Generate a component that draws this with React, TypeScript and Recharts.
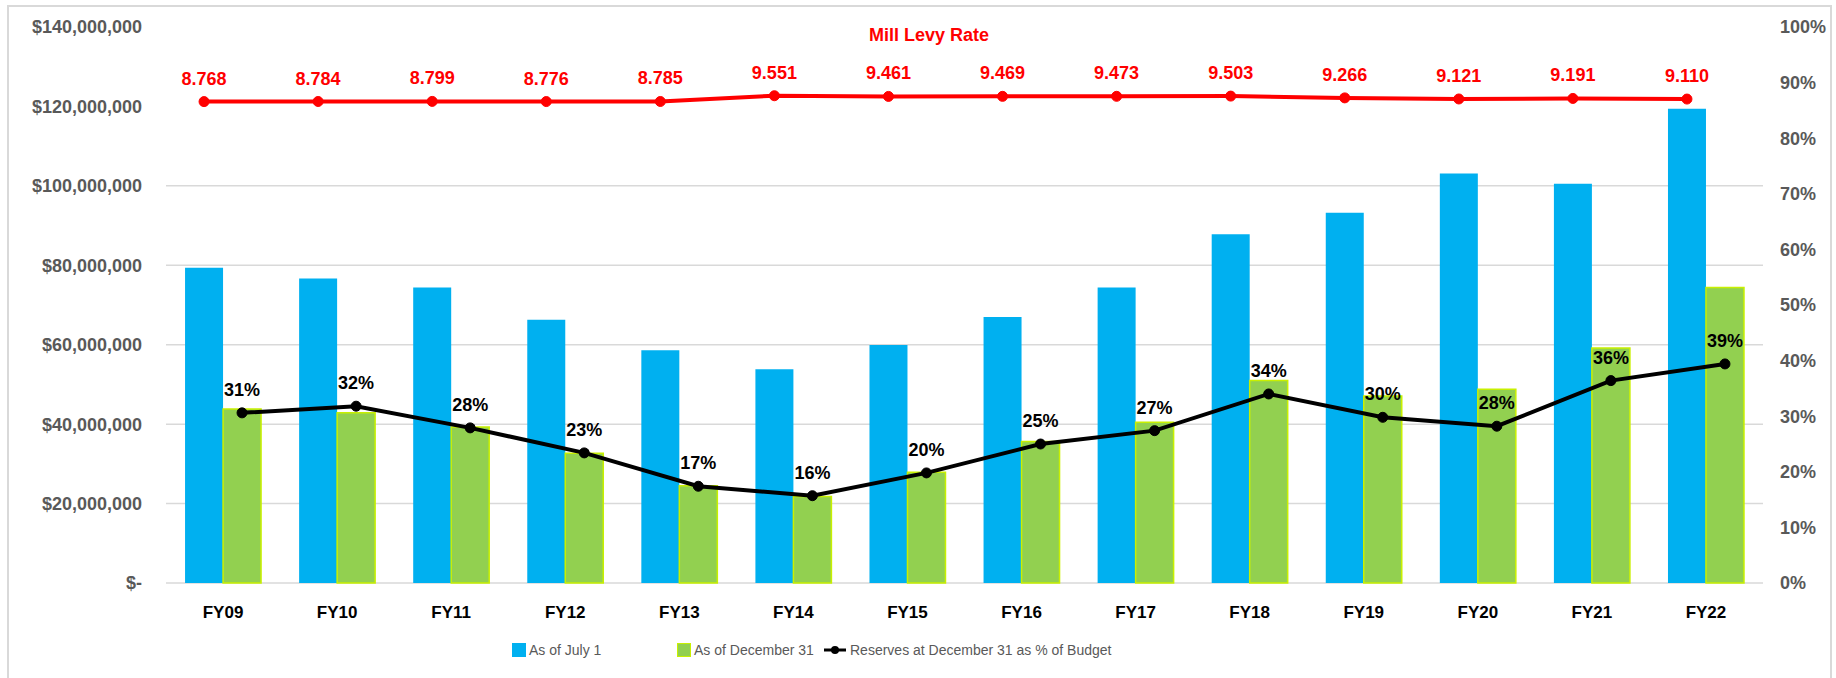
import {
  ComposedChart,
  Bar,
  Line,
  XAxis,
  YAxis,
  CartesianGrid,
  Legend,
  LabelList,
} from "recharts"

const years = ["FY09", "FY10", "FY11", "FY12", "FY13", "FY14", "FY15", "FY16", "FY17", "FY18", "FY19", "FY20", "FY21", "FY22"]

// reserves in $ millions
const asOfJuly1 = [79.4, 76.7, 74.4, 66.3, 58.6, 53.8, 59.9, 67.0, 74.4, 87.8, 93.2, 103.1, 100.5, 119.4]
const asOfDec31 = [43.8, 42.9, 39.3, 32.7, 24.5, 21.8, 27.9, 35.6, 40.5, 51.0, 47.1, 48.8, 59.2, 74.4]

// reserves at Dec 31 as % of budget
const reservePct = [30.6, 31.8, 27.9, 23.4, 17.4, 15.7, 19.8, 25.0, 27.4, 34.0, 29.8, 28.2, 36.4, 39.4]

const millLevy = [8.768, 8.784, 8.799, 8.776, 8.785, 9.551, 9.461, 9.469, 9.473, 9.503, 9.266, 9.121, 9.191, 9.11]

const dollarTicks = [0, 20, 40, 60, 80, 100, 120, 140]
const gridValues = [0, 20, 40, 60, 80, 100]
const pctTicks = [0, 10, 20, 30, 40, 50, 60, 70, 80, 90, 100]

const data = years.map((year, i) => ({
  year,
  july: asOfJuly1[i],
  dec: asOfDec31[i],
  pct: reservePct[i],
  levy: millLevy[i],
}))

const FONT = "'Liberation Sans', Arial, sans-serif"
const BLUE = "#00b0f0"
const GREEN = "#92d050"
const RED = "#ff0000"
const GRAY = "#595959"

const fmtDollar = (v: number) => (v === 0 ? "$-" : "$" + (v * 1000000).toLocaleString("en-US"))

function ChartLegend() {
  const text = { fontSize: 14, color: GRAY, whiteSpace: "nowrap" as const }
  return (
    <div style={{ display: "flex", alignItems: "center", fontFamily: FONT, height: 20 }}>
      <div style={{ width: 165, display: "flex", alignItems: "center" }}>
        <span style={{ width: 14, height: 14, background: BLUE, marginRight: 3 }} />
        <span style={text}>As of July 1</span>
      </div>
      <div style={{ width: 147, display: "flex", alignItems: "center" }}>
        <span style={{ width: 12, height: 12, background: GREEN, border: "1px solid #c8f000", marginRight: 3 }} />
        <span style={text}>As of December 31</span>
      </div>
      <div style={{ display: "flex", alignItems: "center" }}>
        <svg width={22} height={12} style={{ marginRight: 4 }}>
          <line x1={0} y1={6} x2={22} y2={6} stroke="#000" strokeWidth={3} />
          <circle cx={11} cy={6} r={4} fill="#000" />
        </svg>
        <span style={text}>Reserves at December 31 as % of Budget</span>
      </div>
    </div>
  )
}

export default function App() {
  const tickStyle = { fontSize: 18, fontWeight: 700, fill: GRAY, fontFamily: FONT }
  return (
    <div
      style={{
        position: "absolute",
        left: 0,
        top: 0,
        width: 1836,
        height: 678,
        overflow: "hidden",
        background: "#fff",
        fontFamily: FONT,
      }}
    >
      <div
        style={{
          position: "absolute",
          left: 7,
          top: 5,
          width: 1821,
          height: 700,
          border: "2px solid #d9d9d9",
        }}
      />
      <ComposedChart
        width={1836}
        height={678}
        data={data}
        margin={{ top: 27, right: 0, bottom: 0, left: 0 }}
        barCategoryGap="16.7%"
        barGap={0}
        style={{ position: "absolute", left: 0, top: 0 }}
      >
        <CartesianGrid horizontal vertical={false} horizontalValues={gridValues} stroke="#d9d9d9" strokeWidth={1.5} yAxisId="usd" />
        <XAxis
          dataKey="year"
          height={95}
          axisLine={false}
          tickLine={false}
          tickMargin={17}
          tick={{ fontSize: 17, fontWeight: 700, fill: "#000", fontFamily: FONT }}
        />
        <XAxis xAxisId="blueMid" dataKey="year" hide height={0} padding={{ left: -19, right: 19 }} />
        <XAxis xAxisId="greenMid" dataKey="year" hide height={0} padding={{ left: 19, right: -19 }} />
        <YAxis
          yAxisId="usd"
          width={166}
          domain={[0, 140]}
          ticks={dollarTicks}
          tickFormatter={fmtDollar}
          axisLine={false}
          tickLine={false}
          tickMargin={18}
          tick={tickStyle}
          interval={0}
        />
        <YAxis
          yAxisId="pct"
          orientation="right"
          width={73}
          domain={[0, 100]}
          ticks={pctTicks}
          tickFormatter={(v: number) => `${v}%`}
          axisLine={false}
          tickLine={false}
          tickMargin={11}
          tick={{ ...tickStyle, textAnchor: "start" }}
          interval={0}
        />
        <YAxis yAxisId="levy" hide width={0} domain={[-55.3, 18.7]} />
        <Bar yAxisId="usd" dataKey="july" name="As of July 1" fill={BLUE} isAnimationActive={false} />
        <Bar
          yAxisId="usd"
          dataKey="dec"
          name="As of December 31"
          fill={GREEN}
          stroke="#c8f000"
          strokeWidth={1.5}
          isAnimationActive={false}
        />
        <Line
          xAxisId="greenMid"
          yAxisId="pct"
          dataKey="pct"
          name="Reserves at December 31 as % of Budget"
          stroke="#000"
          strokeWidth={4}
          dot={{ r: 5, fill: "#000", stroke: "#000", strokeWidth: 1 }}
          isAnimationActive={false}
        >
          <LabelList
            dataKey="pct"
            position="top"
            offset={17}
            formatter={(v: number) => `${Math.round(v)}%`}
            style={{ fontSize: 18, fontWeight: 700, fill: "#000", fontFamily: FONT }}
          />
        </Line>
        <Line
          xAxisId="blueMid"
          yAxisId="levy"
          dataKey="levy"
          name="Mill Levy Rate"
          stroke={RED}
          strokeWidth={4}
          dot={{ r: 5, fill: RED, stroke: RED, strokeWidth: 1 }}
          isAnimationActive={false}
          legendType="none"
        >
          <LabelList
            dataKey="levy"
            position="top"
            offset={17}
            formatter={(v: number) => v.toFixed(3)}
            style={{ fontSize: 18, fontWeight: 700, fill: RED, fontFamily: FONT }}
          />
        </Line>
        <text x={929} y={41} textAnchor="middle" fontSize={18} fontWeight={700} fill={RED} fontFamily={FONT}>
          Mill Levy Rate
        </text>
        <Legend
          layout="horizontal"
          verticalAlign="middle"
          align="center"
          wrapperStyle={{ top: 640, left: 512, width: 800 }}
          content={() => <ChartLegend />}
        />
      </ComposedChart>
    </div>
  )
}
